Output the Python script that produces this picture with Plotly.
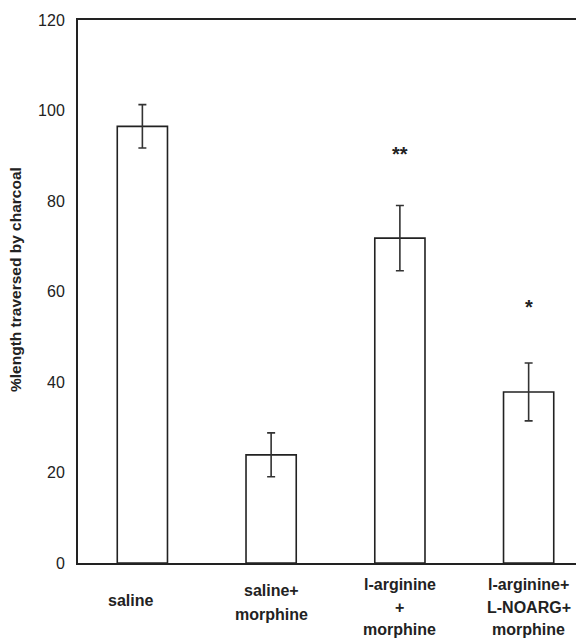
import plotly.graph_objects as go

# ---- data ----
categories = ["saline", "saline+morphine", "l-arginine+morphine", "l-arginine+L-NOARG+morphine"]
label_lines = [["saline"], ["saline+", "morphine"], ["l-arginine", "+", "morphine"],
               ["l-arginine+", "L-NOARG+", "morphine"]]
means = [96.5, 23.9, 71.8, 37.8]
sems = [4.8, 4.85, 7.2, 6.4]
signif = ["", "", "**", "*"]
signif_y = [None, None, 91.5, 57.7]
y_ticks = [0, 20, 40, 60, 80, 100, 120]
y_title = "%length traversed by charcoal"

# page has an 8px body margin, so the figure is drawn 8px smaller and offset
OFF = 8
W, H = 584 - OFF, 638 - OFF
ML, MR, MT, MB = 78 - OFF, 0, 20 - OFF, 75
FONT = "Liberation Sans, Arial, sans-serif"
INK = "#222222"

xs = list(range(len(categories)))

fig = go.Figure()
fig.add_trace(go.Bar(
    x=xs, y=means, width=0.39,
    marker=dict(color="rgba(255,255,255,0)", line=dict(color=INK, width=1.6)),
    error_y=dict(type="data", array=sems, visible=True, color="#333333",
                 thickness=1.6, width=4),
    showlegend=False, hoverinfo="skip",
))

annotations = []
# significance marks
for x, s, sy in zip(xs, signif, signif_y):
    if s:
        annotations.append(dict(x=x, y=sy, xref="x", yref="y", text="<b>%s</b>" % s,
                                showarrow=False, yshift=-5,
                                font=dict(family=FONT, size=20, color=INK),
                                xanchor="center", yanchor="middle"))

# category labels (one annotation per line, page-pixel centres as in the reference)
line_centres = {1: [600], 2: [590, 614], 3: [584, 607, 629]}
label_xshift = [-12, 0, 0, 0]
plot_bottom_page = H - MB + OFF
for x, lines, dx in zip(xs, label_lines, label_xshift):
    for ln, py in zip(lines, line_centres[len(lines)]):
        annotations.append(dict(x=x, y=0, xref="x", yref="paper", text="<b>%s</b>" % ln,
                                showarrow=False, xanchor="center", yanchor="middle",
                                yshift=-(py - plot_bottom_page), xshift=dx,
                                font=dict(family=FONT, size=16, color=INK)))

# y axis title
plot_w = W - ML - MR
plot_h = H - MT - MB
annotations.append(dict(x=(15 - 78) / plot_w, y=(plot_bottom_page - 280) / plot_h,
                        xref="paper", yref="paper", text="<b>%s</b>" % y_title,
                        textangle=-90, showarrow=False, xanchor="center", yanchor="middle",
                        font=dict(family=FONT, size=15.5, color=INK)))

fig.update_layout(
    width=W, height=H,
    margin=dict(l=ML, r=MR, t=MT, b=MB, pad=0),
    paper_bgcolor="white", plot_bgcolor="white",
    annotations=annotations,
    xaxis=dict(range=[-0.5, 3.43], showticklabels=False, ticks="", showgrid=False,
               zeroline=False, showline=True, linecolor=INK, linewidth=2, mirror=True),
    yaxis=dict(range=[0, 120], tickvals=y_ticks, ticks="", showgrid=False, zeroline=False,
               showline=True, linecolor=INK, linewidth=2, ticklabelstandoff=8,
               tickfont=dict(family=FONT, size=16, color=INK)),
)

fig.write_html("out.html")
